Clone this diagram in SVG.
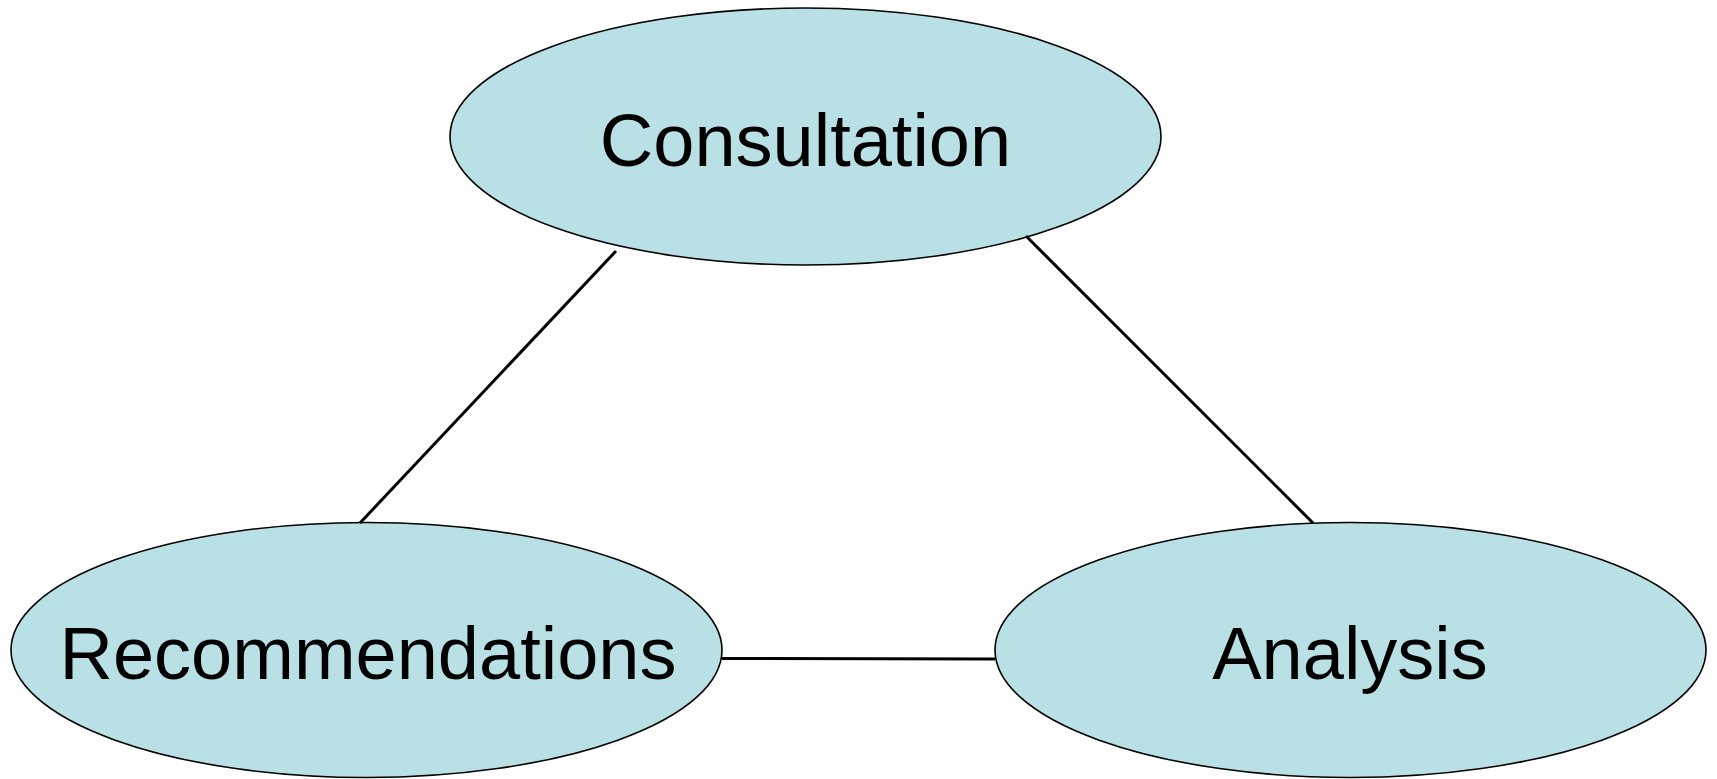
<svg xmlns="http://www.w3.org/2000/svg" width="1717" height="779" viewBox="0 0 1717 779">
<style>
.node ellipse{fill:#b9e0e4;stroke:#000;stroke-width:1.6}
.node text{font-family:"Liberation Sans",Arial,sans-serif;font-size:74px;fill:#000;text-anchor:middle}
.edge{stroke:#000;stroke-width:3;fill:none}
</style>
<rect width="1717" height="779" fill="#fff"/>
<g id="consultation" class="node">
<ellipse cx="805.5" cy="136.5" rx="355.5" ry="128.5"/>
<text x="805.5" y="166">Consultation</text>
</g>
<g id="recommendations" class="node">
<ellipse cx="366.5" cy="650" rx="355.5" ry="127.5"/>
<text x="368" y="679">Recommendations</text>
</g>
<g id="analysis" class="node">
<ellipse cx="1350.5" cy="650" rx="355.5" ry="127.5"/>
<text x="1350" y="679">Analysis</text>
</g>
<g id="connectors">
<line class="edge" x1="616" y1="251" x2="360" y2="523"/>
<line class="edge" x1="1026" y1="236" x2="1313" y2="523"/>
<line class="edge" x1="722" y1="658.5" x2="995" y2="659"/>
</g>
</svg>
